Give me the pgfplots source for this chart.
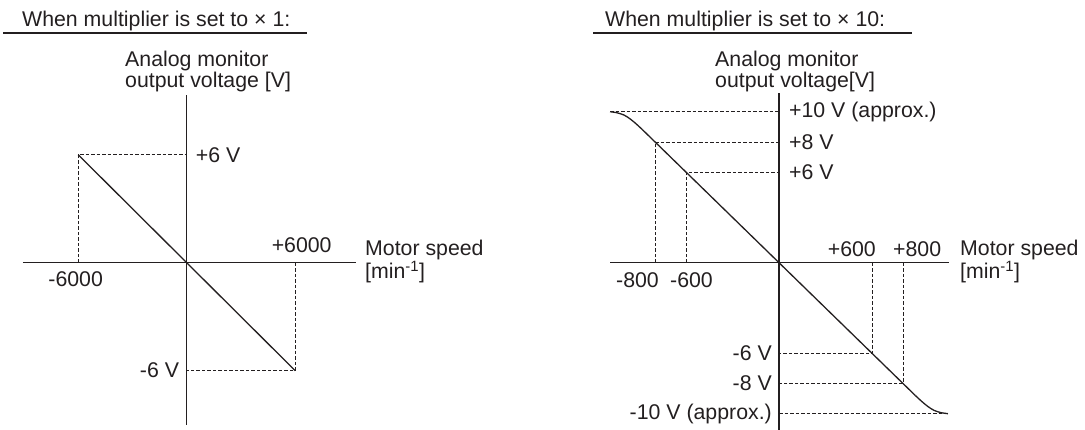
\documentclass[border=0pt]{standalone}
\usepackage{pgfplots}
\pgfplotsset{compat=1.18}
\usepackage{fontspec}
\setmainfont{Liberation Sans}
\definecolor{ink}{HTML}{231F20}
\tikzset{lab/.style={font=\fontsize{21.3}{23}\selectfont, text=ink, inner sep=0pt},
  dsh/.style={ink, line width=0.8pt, dash pattern=on 3.5pt off 2pt}}
\begin{document}
\begin{tikzpicture}[x=1pt,y=1pt]
\path[use as bounding box] (0,0) rectangle (1085,430);
% ---------- titles ----------
\node[lab, anchor=base west] at (22,403) {When multiplier is set to × 1:};
\draw[ink, line width=1.1pt] (3,397) -- (307,397);
\node[lab, anchor=base west] at (605,403) {When multiplier is set to × 10:};
\draw[ink, line width=1.1pt] (593,397) -- (912,397);
\node[lab, anchor=base west] at (125,363) {Analog monitor};
\node[lab, anchor=base west] at (125,342) {output voltage [V]};
\node[lab, anchor=base west] at (715,363) {Analog monitor};
\node[lab, anchor=base west] at (715,342) {output voltage[V]};
% ---------- left axis ----------
\begin{axis}[at={(23pt,5pt)}, anchor=south west, scale only axis,
  width=333pt, height=330pt,
  xmin=-9053, xmax=9364, ymin=-9.02, ymax=9.32,
  axis lines=middle, axis line style={-, line width=1.5pt, ink},
  xtick=\empty, ytick=\empty, clip=false]
\addplot[dsh] coordinates {(-6000,0) (-6000,6) (0,6)};
\addplot[dsh] coordinates {(6000,0) (6000,-6) (0,-6)};
\addplot[ink, line width=1.3pt] coordinates {(-6000,6) (6000,-6)};
\node[lab, anchor=west, xshift=9pt] at (axis cs:0,6) {+6 V};
\node[lab, anchor=east, xshift=-7.5pt] at (axis cs:0,-6) {-6 V};
\node[lab, anchor=base, xshift=6.5pt, yshift=10.5pt] at (axis cs:6000,0) {+6000};
\node[lab, anchor=base, xshift=-2.5pt, yshift=-24.3pt] at (axis cs:-6000,0) {-6000};
\node[lab, anchor=base west, xshift=9pt, yshift=7pt] at (axis cs:9364,0) {Motor speed};
\node[lab, anchor=base west, xshift=9pt, yshift=-16pt] at (axis cs:9364,0) {[min\textsuperscript{-1}]};
\end{axis}
% ---------- right axis ----------
\begin{axis}[at={(610pt,0pt)}, anchor=south west, scale only axis,
  width=339pt, height=337pt,
  xmin=-1090.3, xmax=1096.8, ymin=-11.08, ymax=11.24,
  axis lines=middle, axis line style={-, line width=1.5pt, ink},
  xtick=\empty, ytick=\empty, clip=false]
\addplot[dsh] coordinates {(-1090,10) (0,10)};
\addplot[dsh] coordinates {(-800,0) (-800,8) (0,8)};
\addplot[dsh] coordinates {(-600,0) (-600,6) (0,6)};
\addplot[dsh] coordinates {(600,0) (600,-6) (0,-6)};
\addplot[dsh] coordinates {(800,0) (800,-8) (0,-8)};
\addplot[dsh] coordinates {(0,-10) (1090,-10)};
\addplot[ink, line width=1.3pt, smooth] coordinates {(-1090,10.0) (-1045,9.93) (-1000,9.78) (-960,9.52) (-920,9.18) (-880,8.8)};
\addplot[ink, line width=1.3pt] coordinates {(-880,8.8) (880,-8.8)};
\addplot[ink, line width=1.3pt, smooth] coordinates {(880,-8.8) (920,-9.18) (960,-9.52) (1000,-9.78) (1045,-9.93) (1090,-10.0)};
\node[lab, anchor=west, xshift=10pt] at (axis cs:0,10) {+10 V (approx.)};
\node[lab, anchor=west, xshift=10pt] at (axis cs:0,8) {+8 V};
\node[lab, anchor=west, xshift=10pt] at (axis cs:0,6) {+6 V};
\node[lab, anchor=east, xshift=-7pt] at (axis cs:0,-6) {-6 V};
\node[lab, anchor=east, xshift=-7pt] at (axis cs:0,-8) {-8 V};
\node[lab, anchor=east, xshift=-7pt] at (axis cs:0,-10) {-10 V (approx.)};
\node[lab, anchor=base east, xshift=4pt, yshift=6pt] at (axis cs:600,0) {+600};
\node[lab, anchor=base west, xshift=-10pt, yshift=6pt] at (axis cs:800,0) {+800};
\node[lab, anchor=base east, xshift=4pt, yshift=-24.3pt] at (axis cs:-800,0) {-800};
\node[lab, anchor=base west, xshift=-16pt, yshift=-24.3pt] at (axis cs:-600,0) {-600};
\node[lab, anchor=base west, xshift=11pt, yshift=7pt] at (axis cs:1096.8,0) {Motor speed};
\node[lab, anchor=base west, xshift=11pt, yshift=-16pt] at (axis cs:1096.8,0) {[min\textsuperscript{-1}]};
\end{axis}
\end{tikzpicture}
\end{document}
